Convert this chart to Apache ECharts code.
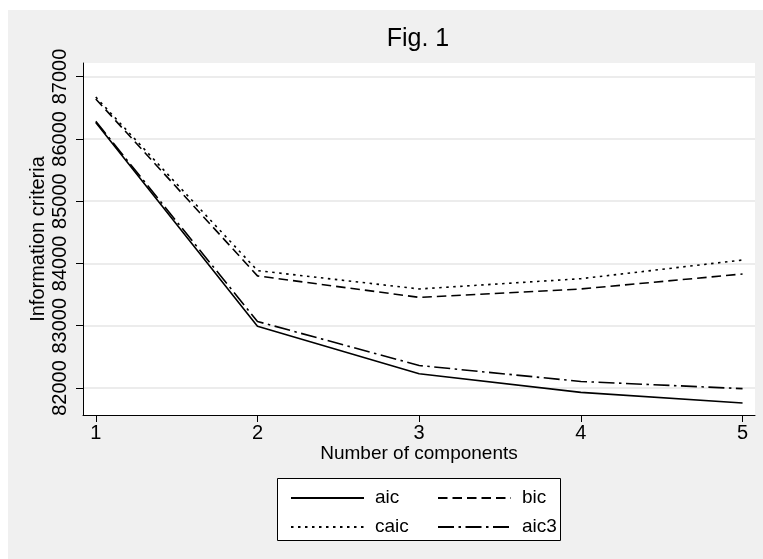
<!DOCTYPE html>
<html lang="en">
<head>
  <meta charset="UTF-8">
  <title>Fig. 1</title>
  <script src="https://cdn.jsdelivr.net/npm/echarts@6/dist/echarts.min.js"></script>
  <style>
    body { margin: 0; background: #fff; }
  </style>
</head>
<body>
  <div id="main" style="width: 763px;height:559px;"></div>
  <script type="text/javascript">
    // Values
    var components = [1, 2, 3, 4, 5];
    var aic  = [86260, 82990, 82230, 81930, 81760];
    var bic  = [86640, 83800, 83455, 83590, 83830];
    var caic = [86670, 83885, 83590, 83755, 84055];
    var aic3 = [86280, 83068, 82362, 82105, 81990];
    var yTicks = [82000, 83000, 84000, 85000, 86000, 87000];

    var font = 'Liberation Sans, Arial, sans-serif';

    function pairs(values) {
      return components.map(function (c, i) { return [c, values[i]]; });
    }

    function lineSeries(name, values, dash) {
      return {
        name: name,
        type: 'line',
        data: pairs(values),
        symbol: 'none',
        lineStyle: { color: '#000', width: 1.6, type: dash },
        itemStyle: { color: '#000' },
        silent: true
      };
    }

    var myChart = echarts.init(document.getElementById('main'));

    var legendText = { color: '#000', fontFamily: font, fontSize: 19, lineHeight: 20, padding: [0, 0, 0, 6] };

    var option = {
      backgroundColor: '#fff',
      animation: false,
      graphic: [
        { type: 'rect', z: -10, shape: { x: 8, y: 10, width: 755, height: 549 }, style: { fill: '#f0f0f0' } },
        { type: 'rect', z: 50, shape: { x: 277.5, y: 478.5, width: 283, height: 62 }, style: { fill: '#fff', stroke: '#000', lineWidth: 1 } }
      ],
      title: {
        text: 'Fig. 1',
        left: 413,
        textAlign: 'center',
        top: 22,
        textStyle: { color: '#000', fontFamily: font, fontSize: 25, fontWeight: 'normal' }
      },
      legend: [
        {
          data: ['aic', 'caic'], orient: 'vertical', left: 285, top: 483,
          itemWidth: 73, itemHeight: 20, itemGap: 9, z: 60,
          itemStyle: { opacity: 0 },
          textStyle: legendText
        },
        {
          data: ['bic', 'aic3'], orient: 'vertical', left: 432, top: 483,
          itemWidth: 73, itemHeight: 20, itemGap: 9, z: 60,
          itemStyle: { opacity: 0 },
          textStyle: legendText
        }
      ],
      grid: {
        left: 83, right: 8, top: 63, bottom: 144,
        show: true, backgroundColor: '#fff', borderWidth: 0
      },
      xAxis: {
        type: 'value',
        min: 0.921, max: 5.077,
        name: 'Number of components',
        nameLocation: 'middle',
        nameGap: 29,
        nameMoveOverlap: false,
        nameTextStyle: { color: '#000', fontFamily: font, fontSize: 19 },
        axisLine: { lineStyle: { color: '#000', width: 1 } },
        axisTick: { customValues: components, length: 7, lineStyle: { color: '#000' } },
        axisLabel: { customValues: components, margin: 8, color: '#000', fontFamily: font, fontSize: 20 },
        splitLine: { show: false }
      },
      yAxis: {
        type: 'value',
        min: 81567, max: 87217,
        name: 'Information criteria',
        nameLocation: 'middle',
        nameGap: 35,
        nameMoveOverlap: false,
        nameTextStyle: { color: '#000', fontFamily: font, fontSize: 20 },
        axisLine: { show: true, lineStyle: { color: '#000', width: 1 } },
        axisTick: { show: true, customValues: yTicks, length: 7, lineStyle: { color: '#000' } },
        axisLabel: {
          customValues: yTicks, rotate: 90, margin: 13,
          align: 'center', verticalAlign: 'bottom',
          formatter: function (v) { return String(v); },
          color: '#000', fontFamily: font, fontSize: 20
        },
        splitLine: { show: true, lineStyle: { color: '#e6e6e6', width: 1.5 } }
      },
      series: [
        lineSeries('aic', aic, 'solid'),
        lineSeries('bic', bic, [9.5, 5]),
        lineSeries('caic', caic, [2.5, 4.5]),
        lineSeries('aic3', aic3, [16, 4.5, 2.5, 4.5])
      ]
    };

    myChart.setOption(option);
  </script>
</body>
</html>
